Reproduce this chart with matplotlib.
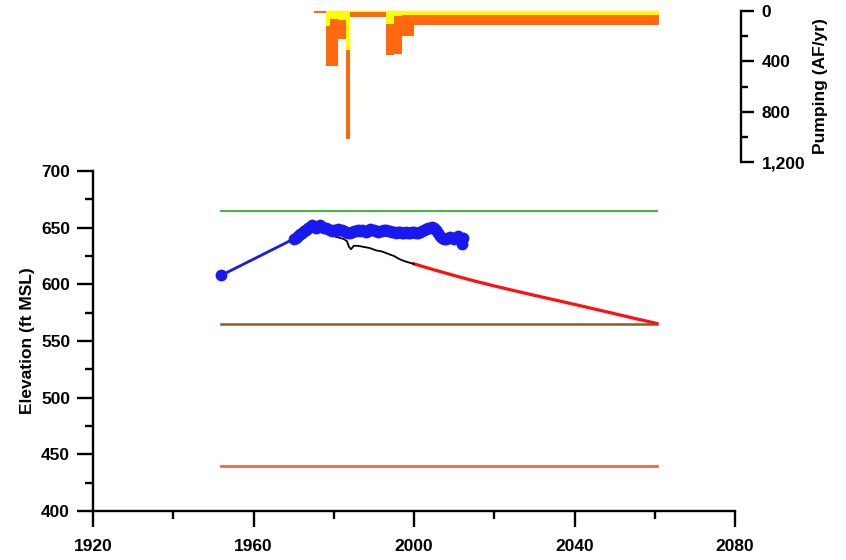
import matplotlib
matplotlib.use("Agg")
import matplotlib.pyplot as plt
from matplotlib.ticker import MultipleLocator, FuncFormatter
import numpy as np

plt.rcParams['font.family'] = ['Liberation Sans', 'DejaVu Sans']
plt.rcParams['font.weight'] = 'bold'

# ---- Observed water levels (blue) ----
obs_years = [1952.0, 1970.0, 1970.5, 1971.0, 1971.5, 1972.0, 1972.5, 1973.0, 1973.5,
             1974.0, 1974.5, 1975.0, 1975.5, 1976.0, 1976.5, 1977.0, 1977.5, 1978.0,
             1978.5, 1979.0, 1979.5, 1980.0, 1980.5, 1981.0, 1981.5, 1982.0, 1982.5,
             1983.0, 1983.5, 1984.0, 1984.5, 1985.0, 1985.5, 1986.0, 1986.5, 1987.0,
             1987.5, 1988.0, 1988.5, 1989.0, 1989.5, 1990.0, 1990.5, 1991.0, 1991.5,
             1992.0, 1992.5, 1993.0, 1993.5, 1994.0, 1994.5, 1995.0, 1995.5, 1996.0,
             1996.5, 1997.0, 1997.5, 1998.0, 1998.5, 1999.0, 1999.5, 2000.0, 2000.5,
             2001.0, 2001.5, 2002.0, 2002.5, 2003.0, 2003.5, 2004.0, 2004.5, 2005.0,
             2005.5, 2006.0, 2006.5, 2007.0, 2007.5, 2008.0, 2008.5, 2009.0, 2009.5,
             2010.0, 2010.5, 2011.0, 2011.5, 2012.0, 2012.3]
obs_elev = [608, 640, 641, 643, 644, 645, 647, 648, 650,
            651, 652, 651, 650, 651, 652, 651, 650, 650,
            649, 648, 647, 648, 647, 649, 648, 648, 647,
            646, 645, 645, 646, 647, 647, 648, 647, 648,
            647, 646, 647, 649, 648, 648, 647, 646, 647,
            647, 648, 648, 647, 647, 646, 646, 645, 646,
            646, 645, 645, 646, 645, 645, 646, 646, 645,
            645, 646, 647, 648, 649, 650, 650, 651, 650,
            648, 645, 643, 641, 640, 640, 641, 642, 641,
            640, 641, 643, 641, 636, 641]

# ---- Simulated historical (black) ----
sim_years = [1977.5, 1978.5, 1979.5, 1980.5, 1981.5, 1982.5, 1983.3, 1983.8, 1984.3,
             1985.0, 1986.0, 1987.5, 1989.0, 1990.5, 1992.0, 1993.5, 1995.0, 1996.5,
             1998.0, 1999.0, 2000.0]
sim_elev = [647, 645, 643, 642, 641, 640, 638, 633, 631,
            634, 634, 633, 632, 630, 629, 627, 625, 622,
            620, 619, 618]

# ---- Projected (red) ----
proj_years = [2000, 2005, 2010, 2015, 2020, 2025, 2030, 2035, 2040, 2045, 2050, 2055, 2060.5]
proj_elev = [618, 612.8, 607.8, 603.0, 598.6, 594.4, 590.3, 586.3, 582.3, 578.2, 574.1, 569.9, 565.5]

# ---- Reference lines ----
ref_x = [1952, 2060.5]
ref_green = 665
ref_brown = 565
ref_salmon = 440

# ---- Pumping (AF/yr) ----
pump_years = list(range(1975, 2061))
pump_yellow = []
pump_orange = []
for yr in pump_years:
    if yr < 1978:
        pump_yellow.append(0); pump_orange.append(15)
    elif yr == 1978:
        pump_yellow.append(120); pump_orange.append(320)
    elif yr <= 1980:
        pump_yellow.append(60); pump_orange.append(380)
    elif yr <= 1982:
        pump_yellow.append(70); pump_orange.append(150)
    elif yr == 1983:
        pump_yellow.append(310); pump_orange.append(710)
    elif yr <= 1992:
        pump_yellow.append(10); pump_orange.append(40)
    elif yr <= 1994:
        pump_yellow.append(100); pump_orange.append(250)
    elif yr <= 1996:
        pump_yellow.append(40); pump_orange.append(300)
    elif yr <= 1999:
        pump_yellow.append(30); pump_orange.append(165)
    else:
        pump_yellow.append(32); pump_orange.append(80)

W, H = 846, 560
fig = plt.figure(figsize=(W / 100, H / 100), dpi=100)

x0, x1 = 93, 735
ax = fig.add_axes([x0 / W, 1 - 511 / H, (x1 - x0) / W, (511 - 171) / H])
axp = fig.add_axes([x0 / W, 1 - 162 / H, (x1 - x0) / W, (162 - 11) / H])

# Main axes
ax.plot(ref_x, [ref_green] * 2, color='#22b922', lw=1.3, zorder=2)
ax.plot(ref_x, [ref_brown] * 2, color='#8b5a2b', lw=1.8, zorder=2)
ax.plot(ref_x, [ref_salmon] * 2, color='#e0704a', lw=2.0, zorder=2)
ax.plot(proj_years, proj_elev, color='#ff1010', lw=2.3, zorder=3)
ax.plot(sim_years, sim_elev, color='black', lw=1.3, zorder=3)
ax.plot(obs_years, obs_elev, color='#1818f0', lw=2.0, marker='o', ms=8.5,
        markeredgewidth=0, zorder=4)

ax.set_xlim(1920, 2080)
ax.set_ylim(400, 700)
ax.xaxis.set_major_locator(MultipleLocator(40))
ax.xaxis.set_minor_locator(MultipleLocator(20))
ax.yaxis.set_major_locator(MultipleLocator(50))
ax.yaxis.set_minor_locator(MultipleLocator(25))
for s in ['top', 'right']:
    ax.spines[s].set_visible(False)
for s in ['left', 'bottom']:
    ax.spines[s].set_linewidth(1.7)
ax.tick_params(axis='x', which='major', direction='out', length=11.5, width=1.7,
               labelsize=12.5, pad=9)
ax.tick_params(axis='x', which='minor', direction='out', length=6, width=1.7)
ax.tick_params(axis='y', which='major', direction='out', length=11.5, width=1.7,
               labelsize=12.5, pad=5)
ax.tick_params(axis='y', which='minor', direction='out', length=6, width=1.7)
ax.set_ylabel('Elevation (ft MSL)', fontsize=12.5, fontweight='bold', labelpad=4)
ax.patch.set_alpha(0)

# Pumping axes
axp.bar(pump_years, pump_yellow, width=1.0, align='edge', color='#ffff00',
        edgecolor='none')
axp.bar(pump_years, pump_orange, width=1.0, align='edge', bottom=pump_yellow,
        color='#ff6a10', edgecolor='none')
axp.set_xlim(1920, 2080)
axp.set_ylim(1200, 0)
for s in ['top', 'left', 'bottom']:
    axp.spines[s].set_visible(False)
axp.spines['right'].set_linewidth(1.7)
axp.spines['right'].set_position(('outward', 4))
axp.set_xticks([])
axp.yaxis.tick_right()
axp.yaxis.set_label_position('right')
axp.yaxis.set_major_locator(MultipleLocator(400))
axp.yaxis.set_minor_locator(MultipleLocator(200))
axp.yaxis.set_major_formatter(FuncFormatter(lambda v, p: f'{int(v):,}'))
axp.tick_params(axis='y', which='major', direction='out', length=9, width=1.7,
                labelsize=12.5, pad=6)
axp.tick_params(axis='y', which='minor', direction='out', length=5, width=1.7)
axp.set_ylabel('Pumping (AF/yr)', fontsize=12.5, fontweight='bold', labelpad=6)
axp.patch.set_alpha(0)

fig.savefig('out.png', dpi=100)
